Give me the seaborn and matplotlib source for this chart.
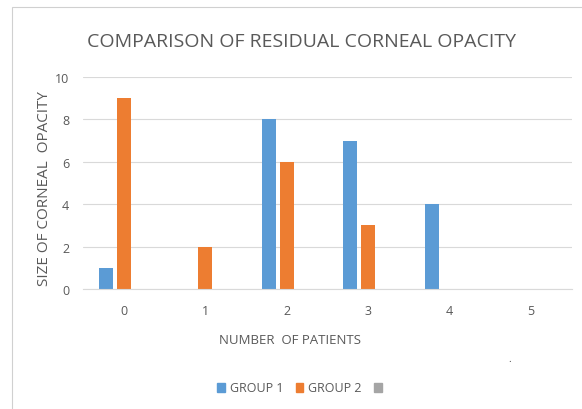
import matplotlib
matplotlib.use("Agg")
import matplotlib.pyplot as plt
import matplotlib.patches as mpatches
import seaborn as sns
import pandas as pd

categories = ["0", "1", "2", "3", "4", "5"]
group1 = [1, 0, 8, 7, 4, 0]
group2 = [9, 2, 6, 3, 0, 0]
group3 = [0, 0, 0, 0, 0, 0]
series_names = ["GROUP 1", "GROUP 2", ""]
colors = ["#5B9BD5", "#ED7D31", "#A5A5A5"]

rows = []
for name, vals in zip(["s1", "s2", "s3"], [group1, group2, group3]):
    for c, v in zip(categories, vals):
        rows.append({"cat": c, "series": name, "value": v})
df = pd.DataFrame(rows)

sns.set_style("white")
plt.rcParams['font.family'] = ['Open Sans', 'DejaVu Sans']
text_color = "#595959"

fig = plt.figure(figsize=(5.82, 4.10), dpi=100)
ax = fig.add_axes([83/582, 1-290/410, (572-83)/582, (290-78)/410])

sns.barplot(data=df, x="cat", y="value", hue="series", order=categories,
            hue_order=["s1", "s2", "s3"], palette=colors, saturation=1,
            width=0.66, gap=0.22, linewidth=0, ax=ax, legend=False)

ax.set_ylim(0, 10)
ax.set_xlim(-0.5, 5.5)
ax.set_yticks([0, 2, 4, 6, 8, 10])
ax.yaxis.grid(True, color="#D9D9D9", linewidth=0.8)
ax.set_axisbelow(True)
for s in ["top", "right", "left"]:
    ax.spines[s].set_visible(False)
ax.spines["bottom"].set_color("#D9D9D9")
ax.spines["bottom"].set_linewidth(0.8)
ax.tick_params(axis="both", length=0, labelsize=9, labelcolor=text_color)
ax.tick_params(axis="y", pad=10)
ax.tick_params(axis="x", pad=11)
ax.set_xlabel("")
ax.set_ylabel("")

fig.text(301/582, 1-42/410, "COMPARISON OF RESIDUAL CORNEAL OPACITY",
         ha="center", va="center", fontsize=14, color=text_color)
fig.text(45/582, 1-189/410, "SIZE OF CORNEAL  OPACITY", rotation=90,
         ha="center", va="center", fontsize=11, color=text_color)
fig.text(290/582, 1-341/410, "NUMBER  OF PATIENTS",
         ha="center", va="center", fontsize=9.5, color=text_color)
fig.text(510/582, 1-360/410, ".", ha="center", va="center", fontsize=7, color="#404040")

handles = [mpatches.Patch(color=c, label=n) for c, n in zip(colors, series_names)]
fig.legend(handles=handles, loc="center", bbox_to_anchor=(302/582, 1-389/410),
           ncol=3, frameon=False, fontsize=9, handlelength=0.6, handleheight=0.7,
           handletextpad=0.4, columnspacing=1.0, labelcolor=text_color)

border = mpatches.Rectangle((12/582, -0.05), 1.0, 1-8/410+0.05, transform=fig.transFigure,
                            fill=False, edgecolor="#D0D0D0", linewidth=0.8)
fig.patches.append(border)

fig.savefig("out.png", dpi=100)
